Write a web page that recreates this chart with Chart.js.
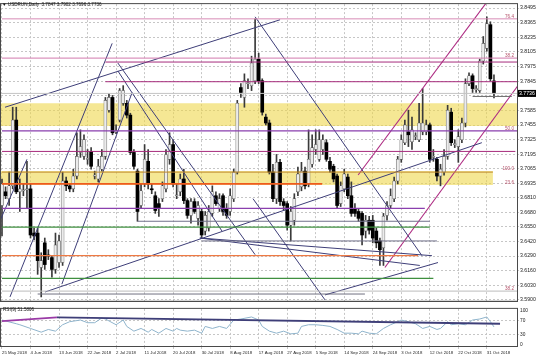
<!DOCTYPE html>
<html>
<head>
<meta charset="utf-8">
<script src="https://cdn.jsdelivr.net/npm/chart.js@4.4.0/dist/chart.umd.min.js"></script>
<style>
  body { margin: 0; background: #fff; }
  #wrap { position: relative; width: 536px; height: 360px; }
  canvas { position: absolute; left: 0; }
</style>
</head>
<body>
<div id="wrap">
  <canvas id="main" width="536" height="305" style="top:0"></canvas>
  <canvas id="rsi" width="536" height="55" style="top:305px"></canvas>
</div>
<script>
// --- data ---
const symbol = 'USDRUN,Daily';
const tickLabels = ['25 May 2018', '4 Jun 2018', '13 Jun 2018', '22 Jun 2018', '2 Jul 2018', '11 Jul 2018',
  '20 Jul 2018', '30 Jul 2018', '8 Aug 2018', '17 Aug 2018', '27 Aug 2018', '5 Sep 2018', '14 Sep 2018',
  '24 Sep 2018', '3 Oct 2018', '12 Oct 2018', '22 Oct 2018', '31 Oct 2018'];
const tickBars = [0, 8, 16, 24, 32, 40, 48, 56, 64, 72, 80, 88, 96, 104, 112, 120, 128, 136];
const priceTicks = [3.5900, 3.6030, 3.6160, 3.6290, 3.6420, 3.6550, 3.6680, 3.6810, 3.6935, 3.7065, 3.7195,
  3.7325, 3.7455, 3.7585, 3.7715, 3.7845, 3.7975, 3.8105, 3.8235, 3.8365, 3.8495];
const rsiTicks = [0, 30, 70, 100];

const opens = [3.6739,3.6861,3.6800,3.6914,3.7499,3.6861,3.6870,3.6879,3.6887,3.6494,3.6494,3.6188,3.6407,3.6293,3.6276,3.6171,3.6232,3.6232,3.6957,3.6914,
  3.6887,3.7001,3.7211,3.7176,3.7150,3.7220,3.7001,3.6975,3.7062,3.7176,3.7587,3.7700,3.7394,3.7499,3.7648,3.7648,3.7543,3.7211,3.7045,3.6739,
  3.6931,3.7132,3.6887,3.6826,3.6756,3.6800,3.6887,3.7150,3.7281,3.6826,3.6861,3.6975,3.6783,3.6651,3.6774,3.6625,3.6686,3.6512,3.6538,3.6669,
  3.6826,3.6713,3.6826,3.6713,3.6686,3.6800,3.7036,3.7788,3.7700,3.7823,3.7805,3.7849,3.8041,3.7849,3.7525,3.7473,3.7036,3.6800,3.7123,3.6774,
  3.6756,3.6564,3.6608,3.6861,3.6905,3.7045,3.6931,3.7106,3.7237,3.7150,3.7237,3.7298,3.7132,3.7088,3.7001,3.6756,3.6887,3.6992,3.6826,3.6713,
  3.6686,3.6669,3.6512,3.6608,3.6608,3.6512,3.6424,3.6363,3.6651,3.6739,3.6800,3.6957,3.7150,3.7298,3.7394,3.7307,3.7351,3.7324,3.7394,3.7394,
  3.7456,3.7167,3.7150,3.7001,3.7036,3.7176,3.7569,3.7281,3.7263,3.7324,3.7473,3.7823,3.7893,3.7770,3.7761,3.8024,3.8137,3.8347,3.7847];
const highs = [3.6975,3.6905,3.7036,3.7613,3.7613,3.6975,3.6931,3.7132,3.6931,3.6538,3.6538,3.6319,3.6450,3.6346,3.6293,3.6494,3.6477,3.7036,3.6992,3.6931,
  3.7062,3.7386,3.7412,3.7368,3.7237,3.7254,3.7045,3.7150,3.7237,3.7700,3.7735,3.7718,3.7456,3.7779,3.7805,3.7674,3.7560,3.7237,3.7062,3.6931,
  3.7281,3.7237,3.6931,3.6861,3.6800,3.6949,3.7237,3.7386,3.7324,3.6931,3.7019,3.7062,3.6800,3.6800,3.6800,3.6774,3.6713,3.6686,3.6739,3.6914,
  3.6861,3.6844,3.6844,3.6756,3.6887,3.7062,3.7674,3.7823,3.7910,3.7866,3.8067,3.8399,3.8094,3.7866,3.7552,3.7499,3.7106,3.7193,3.7150,3.6800,
  3.6774,3.6730,3.6844,3.7080,3.7123,3.7080,3.7412,3.7368,3.7412,3.7412,3.7368,3.7324,3.7167,3.7106,3.7019,3.6949,3.7062,3.7019,3.6949,3.6756,
  3.6713,3.6686,3.6651,3.6643,3.6651,3.6538,3.6450,3.6669,3.6774,3.6887,3.6992,3.7176,3.7368,3.7499,3.7587,3.7525,3.7386,3.7648,3.7779,3.7499,
  3.7473,3.7237,3.7167,3.7106,3.7237,3.7630,3.7604,3.7324,3.7412,3.7517,3.7866,3.7919,3.7910,3.7805,3.8041,3.8242,3.8417,3.8373,3.7902];
const lows = [3.6468,3.6800,3.6739,3.6887,3.6844,3.6686,3.6826,3.6713,3.6450,3.6433,3.6127,3.5926,3.6171,3.6258,3.6101,3.6136,3.6188,3.6206,3.6870,3.6861,
  3.6861,3.6975,3.7167,3.7150,3.7106,3.7062,3.6975,3.6949,3.7045,3.7150,3.7569,3.7368,3.7377,3.7482,3.7630,3.7517,3.7193,3.7062,3.6599,3.6713,
  3.6905,3.6887,3.6844,3.6669,3.6643,3.6774,3.6861,3.7106,3.6905,3.6800,3.6826,3.6756,3.6625,3.6582,3.6669,3.6564,3.6450,3.6477,3.6512,3.6643,
  3.6739,3.6686,3.6651,3.6625,3.6651,3.6774,3.7019,3.7700,3.7613,3.7779,3.7761,3.7823,3.7823,3.7543,3.7456,3.7019,3.6774,3.6756,3.6739,3.6695,
  3.6520,3.6424,3.6564,3.6826,3.6870,3.6887,3.6905,3.7080,3.7193,3.7132,3.7193,3.7132,3.7036,3.6949,3.6713,3.6730,3.6861,3.6800,3.6643,3.6643,
  3.6599,3.6389,3.6450,3.6485,3.6407,3.6363,3.6206,3.6206,3.6608,3.6713,3.6774,3.6931,3.7123,3.7281,3.7263,3.7237,3.7324,3.7307,3.7368,3.7368,
  3.7123,3.7132,3.6957,3.6914,3.7010,3.7150,3.7272,3.7254,3.7123,3.7298,3.7438,3.7805,3.7744,3.7744,3.7744,3.7997,3.8111,3.7849,3.7696];
const closes = [3.6931,3.6826,3.6914,3.7499,3.6861,3.6887,3.6879,3.6887,3.6477,3.6468,3.6249,3.6249,3.6214,3.6290,3.6171,3.6389,3.6424,3.6957,3.6914,3.6887,
  3.7001,3.7176,3.7263,3.7324,3.7158,3.7088,3.7010,3.7088,3.7176,3.7674,3.7700,3.7386,3.7403,3.7761,3.7761,3.7543,3.7211,3.7088,3.6686,3.6870,
  3.7150,3.6931,3.6879,3.6695,3.6713,3.6914,3.7193,3.7281,3.6931,3.6835,3.6975,3.6783,3.6651,3.6774,3.6686,3.6739,3.6477,3.6651,3.6686,3.6861,
  3.6756,3.6800,3.6686,3.6651,3.6826,3.7036,3.7648,3.7744,3.7849,3.7831,3.8006,3.8041,3.7849,3.7569,3.7473,3.7036,3.6800,3.7123,3.6774,3.6739,
  3.6564,3.6686,3.6800,3.7019,3.7045,3.6914,3.7150,3.7254,3.7281,3.7324,3.7324,3.7150,3.7062,3.6975,3.6739,3.6914,3.7019,3.6826,3.6669,3.6669,
  3.6625,3.6477,3.6608,3.6520,3.6450,3.6407,3.6346,3.6643,3.6739,3.6826,3.6957,3.7150,3.7324,3.7456,3.7368,3.7412,3.7359,3.7473,3.7473,3.7456,
  3.7150,3.7176,3.7001,3.7062,3.7176,3.7587,3.7298,3.7289,3.7351,3.7473,3.7823,3.7893,3.7779,3.7779,3.8024,3.8181,3.8356,3.7866,3.7736];

const rsiName = 'RSI(9) 51.5806';
const rsiBars = [0,4,5,8,11,13,15,17,19,22,24,26,28,29,32,34,35,37,39,41,42,44,46,48,49,50,52,54,56,57,59,61,63,65,67,70,72,73,75,77,
  79,81,83,84,86,88,90,92,94,96,98,100,101,103,105,107,109,111,112,114,116,118,120,122,123,125,126,128,130,132,134,136,137,138];
const rsiValues = [72,61,58,47,36,44,39,58,67,72,64,64,78,75,58,72,53,39,47,36,44,33,47,39,47,42,39,42,33,53,47,53,47,72,75,81,72,53,39,33,
  39,31,33,53,58,58,56,53,44,33,33,31,39,33,31,47,58,67,72,67,61,47,53,44,47,67,58,61,58,72,75,81,67,51.58];

// horizontal levels: price, first bar, last bar
const levelPrices = [3.8399, 3.8050, 3.8015, 3.7840, 3.7736, 3.7709, 3.7403, 3.7220, 3.7036, 3.6931, 3.6713, 3.6599, 3.6547, 3.6424, 3.6293, 3.6092, 3.5978, 3.5952];
const levelFrom = [0, 0, 29, 29, 0, 132, 0, 0, 0, 0, 0, 38, 0, 56, 0, 0, 0, 10];
const levelTo = [145, 145, 145, 145, 145, 143, 145, 144, 137.7, 89.8, 118.6, 120, 120, 122, 116.7, 121, 145, 101.8];

// shaded zones: top, bottom, last bar
const zoneTops = [3.7648, 3.7045];
const zoneBottoms = [3.7447, 3.6922];
const zoneTo = [145, 137.7];

// trend lines: [bar, price] start and end
const trendStart = [[-0.5, 3.6608], [0.84, 3.7613], [2.24, 3.5926], [16.8, 3.6040], [32.5, 3.8006], [32.5, 3.7936], [71, 3.8417],
  [12.1, 3.5970], [90.6, 3.5944], [55.5, 3.6450], [55.5, 3.6450], [70.4, 3.6800]];
const trendEnd = [[7, 3.7150], [78, 3.8391], [30.9, 3.8181], [36.5, 3.7744], [71, 3.6302], [61.7, 3.6512], [117.8, 3.6293],
  [134.6, 3.7298], [122.3, 3.6232], [117.2, 3.6206], [120.6, 3.6293], [90.6, 3.5900]];
const channelStart = [[99.9, 3.7010], [107.4, 3.6188]];
const channelEnd = [[136, 3.8548], [144.7, 3.7805]];

const fibTexts = ['76.4', '38.2', '50.0', '100.0', '23.6', '38.2'];
const fibPrices = [3.8399, 3.8050, 3.7403, 3.7045, 3.6922, 3.5978];

// rsi trend lines
const rsiTrendStart = [[0, 69], [15.4, 80]];
const rsiTrendEnd = [[15.4, 80], [139.7, 61]];

// --- styles ---
const FONT = "'Liberation Sans', Arial, sans-serif";
Chart.defaults.font.family = FONT;
const levelColors = ['#d88cb6', '#d27aad', '#a62b7c', '#a62b7c', '#c4c4c4', '#6c6c6c', '#8a3fae', '#a62b7c', '#c08a30',
  '#ee5a1e', '#8a3fae', '#70708a', '#3f8f3f', '#70708a', '#ee7a44', '#3f8f3f', '#bdbdbd', '#707080'];
const levelWidths = [1, 1, 1, 1, 1, 1, 1.2, 1, 1, 1.8, 1.2, 1, 1.2, 1, 1.2, 1.2, 1, 1];
const GRID = '#c6c6c6';
const XMIN = -0.28, XMAX = 144.46;
const last = closes.length - 1;

const pt = (a) => ({ x: a[0], y: a[1] });
const seg = (a, b, color, width, order) => ({
  type: 'line', data: [pt(a), pt(b)], borderColor: color, borderWidth: width,
  pointRadius: 0, fill: false, order: order
});

const datasets = [];
zoneTops.forEach((t, i) => {
  datasets.push({ type: 'line', data: [{ x: -1, y: t }, { x: zoneTo[i], y: t }], borderColor: 'rgba(0,0,0,0)',
    borderWidth: 0, pointRadius: 0, fill: '+1', backgroundColor: 'rgba(238,214,70,0.58)', order: 5 });
  datasets.push({ type: 'line', data: [{ x: -1, y: zoneBottoms[i] }, { x: zoneTo[i], y: zoneBottoms[i] }],
    borderColor: 'rgba(0,0,0,0)', borderWidth: 0, pointRadius: 0, fill: false, order: 5 });
});
levelPrices.forEach((p, i) => {
  datasets.push(seg([levelFrom[i], p], [levelTo[i], p], levelColors[i], levelWidths[i], 0));
});
trendStart.forEach((s, i) => datasets.push(seg(s, trendEnd[i], '#3e3e78', 1, 0)));
channelStart.forEach((s, i) => datasets.push(seg(s, channelEnd[i], '#ad2a82', 1.1, 0)));

const bull = (i) => closes[i] >= opens[i];
datasets.push({
  type: 'bar', data: highs.map((h, i) => ({ x: i, y: [lows[i], h] })),
  barThickness: 1, backgroundColor: '#3a3a3a', grouped: false, order: 2
});
datasets.push({
  type: 'bar', data: opens.map((o, i) => ({ x: i, y: [o, closes[i]] })),
  barThickness: 3, minBarLength: 1, grouped: false, order: 1, borderSkipped: false,
  backgroundColor: (c) => bull(c.dataIndex) ? '#ececec' : '#000',
  borderColor: (c) => bull(c.dataIndex) ? '#5a5a5a' : '#000',
  borderWidth: (c) => bull(c.dataIndex) ? 0.6 : 0
});

const mainOverlay = {
  id: 'mainOverlay',
  afterDraw(chart) {
    const { ctx, chartArea: a, scales: { x, y } } = chart;
    ctx.save();
    ctx.strokeStyle = '#4a4a4a';
    ctx.lineWidth = 1;
    ctx.strokeRect(a.left - 0.5, a.top - 0.5, a.right - a.left + 1, a.bottom - a.top + 1);
    ctx.fillStyle = '#4a4a4a';
    ctx.fillRect(a.left - 1, a.bottom, a.right - a.left + 2, 1);

    ctx.font = '4.6px ' + FONT;
    ctx.fillStyle = '#b5536b';
    ctx.textAlign = 'right';
    ctx.textBaseline = 'bottom';
    fibTexts.forEach((t, i) => ctx.fillText(t, x.getPixelForValue(143.6), y.getPixelForValue(fibPrices[i]) - 0.3));

    ctx.textAlign = 'left';
    ctx.textBaseline = 'middle';
    ctx.fillStyle = '#111';
    ctx.font = '4.6px ' + FONT;
    const ohlc = [opens[last], highs[last], lows[last], closes[last]].map(v => v.toFixed(4)).join(' ');
    ctx.fillText('\u25BC ' + symbol + '  ' + ohlc, 2, 5);

    const py = y.getPixelForValue(closes[last]);
    ctx.fillStyle = '#000';
    ctx.fillRect(a.right + 1, py - 3.5, 18, 7);
    ctx.fillStyle = '#fff';
    ctx.font = '5.2px ' + FONT;
    ctx.fillText(closes[last].toFixed(4), a.right + 2, py + 0.3);
    ctx.restore();
  }
};

new Chart(document.getElementById('main'), {
  type: 'bar',
  data: { datasets: datasets },
  options: {
    responsive: false, animation: false, events: [],
    layout: { padding: { left: 1, top: 2, right: 0, bottom: 0 } },
    plugins: { legend: { display: false }, tooltip: { enabled: false }, filler: { drawTime: 'beforeDatasetsDraw' } },
    scales: {
      x: {
        type: 'linear', min: XMIN, max: XMAX, offset: false,
        afterBuildTicks: (s) => { s.ticks = tickBars.map(v => ({ value: v })); },
        afterFit: (s) => { s.height = 1; },
        ticks: { display: false },
        grid: { color: GRID, drawTicks: false, offset: false },
        border: { display: false, dash: [2, 2] }
      },
      y: {
        position: 'right', min: 3.5891, max: 3.8530, beginAtZero: false,
        afterBuildTicks: (s) => { s.ticks = priceTicks.map(v => ({ value: v })); },
        afterFit: (s) => { s.width = 19; },
        ticks: { font: { size: 5.2 }, color: '#222', padding: 1, autoSkip: false, callback: (v) => v.toFixed(4) },
        grid: { color: GRID, tickLength: 2 },
        border: { display: false, dash: [2, 2] }
      }
    }
  },
  plugins: [mainOverlay]
});

const rsiOverlay = {
  id: 'rsiOverlay',
  afterDraw(chart) {
    const { ctx, chartArea: a } = chart;
    ctx.save();
    ctx.strokeStyle = '#4a4a4a';
    ctx.lineWidth = 1;
    ctx.strokeRect(a.left - 0.5, a.top - 0.5, a.right - a.left + 1, a.bottom - a.top + 1);
    ctx.font = '4.6px ' + FONT;
    ctx.fillStyle = '#111';
    ctx.textAlign = 'left';
    ctx.textBaseline = 'middle';
    ctx.fillText(rsiName, 3, 4.5);
    ctx.restore();
  }
};

new Chart(document.getElementById('rsi'), {
  type: 'line',
  data: {
    datasets: [
      { data: rsiBars.map((b, i) => ({ x: b, y: rsiValues[i] })), borderColor: '#8fb4cc', borderWidth: 1, pointRadius: 0, order: 1 },
      seg(rsiTrendStart[0], rsiTrendEnd[0], '#9a3aa6', 1.8, 0),
      seg(rsiTrendStart[1], rsiTrendEnd[1], '#3e3e78', 1.8, 0)
    ]
  },
  options: {
    responsive: false, animation: false, events: [],
    layout: { padding: { left: 1, top: 1, right: 0, bottom: 0 } },
    plugins: { legend: { display: false }, tooltip: { enabled: false } },
    scales: {
      x: {
        type: 'linear', min: XMIN, max: XMAX, offset: false,
        afterBuildTicks: (s) => { s.ticks = tickBars.map(v => ({ value: v })); },
        afterFit: (s) => { s.height = 14; },
        ticks: { font: { size: 4.3 }, color: '#222', align: 'start', maxRotation: 0, autoSkip: false, padding: 1,
          callback: (v, i) => tickLabels[i] },
        grid: { color: GRID, tickLength: 3, offset: false },
        border: { display: false, dash: [2, 2] }
      },
      y: {
        position: 'right', min: -5, max: 105, beginAtZero: false,
        afterBuildTicks: (s) => { s.ticks = rsiTicks.map(v => ({ value: v })); },
        afterFit: (s) => { s.width = 19; },
        ticks: { font: { size: 4.8 }, color: '#222', padding: 1, autoSkip: false },
        grid: { color: (c) => (c.tick && (c.tick.value === 30 || c.tick.value === 70)) ? GRID : 'rgba(0,0,0,0)', tickLength: 2 },
        border: { display: false, dash: [2, 2] }
      }
    }
  },
  plugins: [rsiOverlay]
});
</script>
</body>
</html>
